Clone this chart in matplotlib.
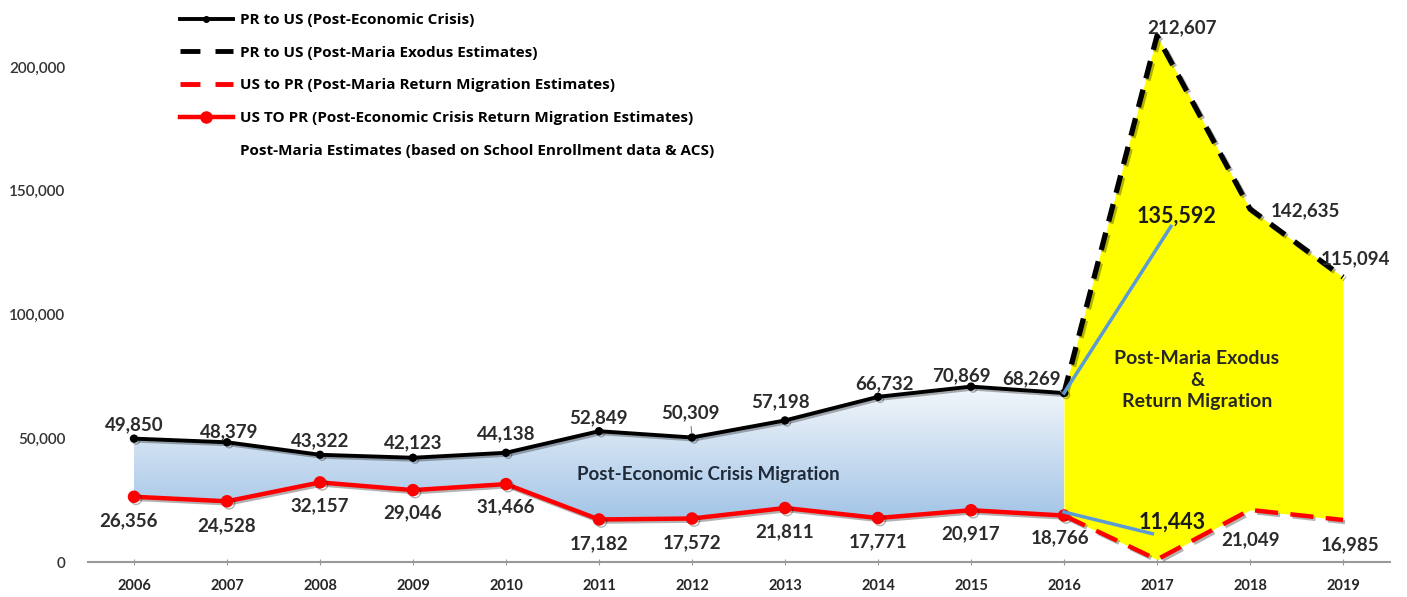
import matplotlib
matplotlib.use('Agg')
import matplotlib.pyplot as plt
import matplotlib.patheffects as pe
from matplotlib.lines import Line2D
from matplotlib.colors import LinearSegmentedColormap
from matplotlib.ticker import FuncFormatter
import numpy as np

plt.rcParams['font.family'] = ['Lato', 'DejaVu Sans']

# data
years_crisis = [2006, 2007, 2008, 2009, 2010, 2011, 2012, 2013, 2014, 2015, 2016]
pr_to_us = [49850, 48379, 43322, 42123, 44138, 52849, 50309, 57198, 66732, 70869, 68269]
us_to_pr = [26356, 24528, 32157, 29046, 31466, 17182, 17572, 21811, 17771, 20917, 18766]

years_maria = [2016, 2017, 2018, 2019]
pr_to_us_maria = [68269, 212607, 142635, 115094]
us_to_pr_maria = [18766, 1000, 21049, 16985]

# school enrollment / ACS estimates (blue lines)
school_high_x = [2016, 2017.15]
school_high = [68269, 135592]
school_low_x = [2016, 2016.95]
school_low = [20200, 11443]

all_years = [2006, 2007, 2008, 2009, 2010, 2011, 2012, 2013, 2014, 2015, 2016, 2017, 2018, 2019]
y_ticks = [0, 50000, 100000, 150000, 200000]

legend_labels = ["PR to US (Post-Economic Crisis)",
                 "PR to US (Post-Maria Exodus Estimates)",
                 "US to PR (Post-Maria Return Migration Estimates)",
                 "US TO PR (Post-Economic Crisis Return Migration Estimates)",
                 "Post-Maria Estimates (based on School Enrollment data & ACS)"]

# label offsets in pixels (dx, dy), dy positive = up
black_off = [(0, 14), (2, 11), (0, 14), (0, 15), (0, 19), (0, 13), (-2, 25), (-4, 19), (6, 13), (-10, 11), (-32, 14)]
red_off = [(-5, -24), (0, -24), (0, -23), (0, -23), (0, -23), (0, -24), (0, -24), (0, -24), (0, -24), (0, -24), (-4, -22)]
black_maria_off = [(25, 8), (55, -2), (12, 18)]
red_maria_off = [(1, -30), (7, -25)]

fig = plt.figure(figsize=(14.07, 5.97), dpi=100)
ax = fig.add_axes([87.5 / 1407, 35 / 597, 1302 / 1407, 544.5 / 597])

shadow = [pe.SimpleLineShadow(offset=(1.5, -1.5), shadow_color='black', alpha=0.3), pe.Normal()]

# gradient fill for post-economic crisis band
band = ax.fill_between(years_crisis, us_to_pr, pr_to_us, color='none', lw=0)
grad = np.linspace(0, 1, 256).reshape(-1, 1)
cmap = LinearSegmentedColormap.from_list('band', ['#9fc2e5', '#f5f8fc'])
im = ax.imshow(grad, extent=[2006, 2016, 15000, 72000], origin='lower', aspect='auto',
               cmap=cmap, zorder=1)
im.set_clip_path(band.get_paths()[0], transform=ax.transData)

# yellow post-Maria area
ax.fill_between(years_maria, us_to_pr_maria, pr_to_us_maria, color='#ffff00', lw=0, zorder=1)

ax.plot(years_crisis, pr_to_us, color='black', lw=2.8, marker='o', ms=5, zorder=4, path_effects=shadow)
ax.plot(years_crisis, us_to_pr, color='#ff0000', lw=3.2, marker='o', ms=8, zorder=4, path_effects=shadow)
ax.plot(years_maria, pr_to_us_maria, color='black', lw=3.8, dashes=(3.4, 2.2), zorder=4, path_effects=shadow)
ax.plot(years_maria, us_to_pr_maria, color='#ff0000', lw=3.2, dashes=(5.2, 2.8), zorder=4, path_effects=shadow)
ax.plot(school_high_x, school_high, color='#5b9bd5', lw=2.5, zorder=5)
ax.plot(school_low_x, school_low, color='#5b9bd5', lw=2.5, zorder=5)

lab_font = dict(family='Lato', weight='bold', size=13.5, color='#2b2b2b')
px = 0.72  # pixel -> point at 100 dpi


def put_label(x, y, off, leader=False):
    kw = {}
    if leader:
        kw['arrowprops'] = dict(arrowstyle='-', color='#7f7f7f', lw=0.8, shrinkA=2, shrinkB=3)
    ax.annotate(f"{y:,}", (x, y), xytext=(off[0] * px, off[1] * px), textcoords='offset points',
                ha='center', va='center', zorder=6, **lab_font, **kw)


for i, (x, y) in enumerate(zip(years_crisis, pr_to_us)):
    put_label(x, y, black_off[i], leader=(x in (2012, 2016)))
for i, (x, y) in enumerate(zip(years_crisis, us_to_pr)):
    put_label(x, y, red_off[i])
for i, (x, y) in enumerate(zip(years_maria[1:], pr_to_us_maria[1:])):
    put_label(x, y, black_maria_off[i])
for i, (x, y) in enumerate(zip(years_maria[2:], us_to_pr_maria[2:])):
    put_label(x, y, red_maria_off[i])

big_font = dict(family='Lato', weight='bold', size=15.5, color='#1a1a1a')
ax.annotate(f"{school_high[1]:,}", (school_high_x[1], school_high[1]), xytext=(6 * px, 10 * px),
            textcoords='offset points', ha='center', va='center', zorder=6, **big_font)
ax.annotate(f"{school_low[1]:,}", (school_low_x[1], school_low[1]), xytext=(20 * px, 11 * px),
            textcoords='offset points', ha='center', va='center', zorder=6, **big_font)

ax.text(2012.18, 35500, "Post-Economic Crisis Migration", ha='center', va='center',
        fontsize=13.5, fontweight='bold', color='#1f2a38', zorder=6)
ax.text(2017.43, 73500, "Post-Maria Exodus\n&\nReturn Migration", ha='center', va='center',
        fontsize=14, fontweight='bold', color='#262626', linespacing=1.3, zorder=6)

ax.set_xlim(2005.5, 2019.5)
ax.set_ylim(0, 220000)
ax.set_xticks(all_years)
ax.set_xticklabels([str(y) for y in all_years], fontweight='bold', fontsize=10.5, color='#262626')
ax.set_yticks(y_ticks)
ax.yaxis.set_major_formatter(FuncFormatter(lambda v, p: f"{int(v):,}"))
ax.tick_params(axis='y', length=0, pad=16, labelsize=11, labelcolor='#333333')
for t in ax.get_yticklabels():
    t.set_fontweight('semibold')
ax.tick_params(axis='x', length=5, direction='inout', color='#999999', pad=10)
for s in ['top', 'right', 'left']:
    ax.spines[s].set_visible(False)
ax.spines['bottom'].set_color('#999999')
ax.spines['bottom'].set_linewidth(1.5)

handles = [
    Line2D([], [], color='black', lw=2.8, marker='o', ms=4),
    Line2D([], [], color='black', lw=3.5, dashes=(4.1, 3.1)),
    Line2D([], [], color='#ff0000', lw=3.5, dashes=(4.1, 3.1)),
    Line2D([], [], color='#ff0000', lw=3.2, marker='o', ms=8),
    Line2D([], [], color='none'),
]
fig.legend(handles, legend_labels, loc='upper left', bbox_to_anchor=(180 / 1407, 1 - 13 / 597),
           frameon=False, prop=dict(family='Open Sans', weight='bold', size=11),
           handlelength=3.45, handletextpad=0.45, labelspacing=1.22, borderaxespad=0, borderpad=0)

fig.savefig('out.png', dpi=100)
